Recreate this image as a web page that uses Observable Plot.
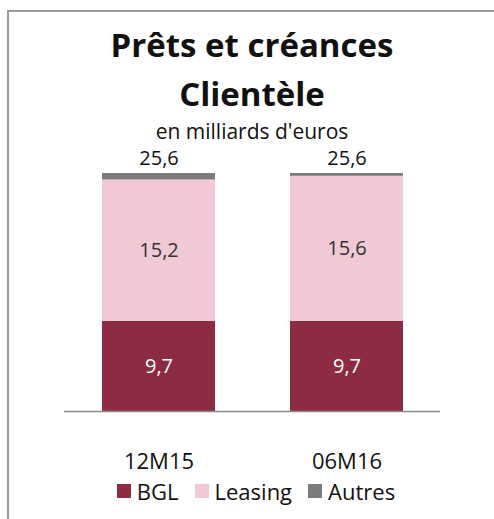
<!DOCTYPE html>
<html>
<head>
<meta charset="utf-8">
<script src="https://cdn.jsdelivr.net/npm/d3@7"></script>
<script src="https://cdn.jsdelivr.net/npm/@observablehq/plot@0.6"></script>
<style>
  html, body { margin: 0; padding: 0; background: #fff; }
  body { width: 494px; height: 519px; overflow: hidden; position: relative; font-family: "Open Sans", sans-serif; color: #111; }
  #frame { position: absolute; left: 7px; top: 10px; width: 487px; height: 509px; border-left: 2px solid #999; border-top: 2px solid #999; box-sizing: border-box; }
  .line { position: absolute; left: 0; width: 504px; text-align: center; white-space: nowrap; }
  #t1 { top: 22px; font-size: 33px; font-weight: 700; line-height: 46px; }
  #t2 { top: 71px; font-size: 33px; font-weight: 700; line-height: 46px; }
  #sub { top: 117px; font-size: 21px; line-height: 28px; }
  #chart { position: absolute; left: 0; top: 140px; }
  #legend { position: absolute; top: 477px; left: 0; width: 512px; display: flex; justify-content: center; align-items: center; font-size: 22px; line-height: 28px; }
  .item { display: flex; align-items: center; margin: 0 8px; }
  .sw { width: 14px; height: 14px; margin-right: 6px; }
</style>
</head>
<body>
<div id="frame"></div>
<div class="line" id="t1">Prêts et créances</div>
<div class="line" id="t2">Clientèle</div>
<div class="line" id="sub">en milliards d'euros</div>
<div id="chart"></div>
<div id="legend"></div>
<script>
const categories = ["12M15", "06M16"];
const series = ["BGL", "Leasing", "Autres"];
const bgl = [9.7, 9.7];
const leasing = [15.2, 15.6];
const autres = [0.7, 0.3];
const totals = [25.6, 25.6];
const colors = ["#8c2b41", "#f0c9d4", "#7b7b7b"];

const fmt = v => v.toFixed(1).replace(".", ",");

const long = [];
categories.forEach((c, i) => {
  long.push({cat: c, series: "BGL", value: bgl[i]});
  long.push({cat: c, series: "Leasing", value: leasing[i]});
  long.push({cat: c, series: "Autres", value: autres[i]});
});
const rows = categories.map((c, i) => ({cat: c, bgl: bgl[i], leasing: leasing[i], total: totals[i]}));

const plot = Plot.plot({
  width: 494,
  height: 335,
  marginLeft: 64,
  marginRight: 54,
  marginTop: 20,
  marginBottom: 64,
  style: {fontFamily: "Open Sans, sans-serif", fontSize: "22px", color: "#111", background: "transparent"},
  x: {domain: categories, paddingInner: 0.4, paddingOuter: 0.2, label: null, tickSize: 0, tickPadding: 42},
  y: {domain: [0, 27], axis: null},
  color: {domain: series, range: colors},
  marks: [
    Plot.barY(long, Plot.stackY({x: "cat", y: "value", fill: "series", order: series})),
    Plot.ruleY([0], {stroke: "#8a8a8a", strokeWidth: 1.5}),
    Plot.text(rows, {x: "cat", y: d => d.bgl / 2, text: d => fmt(d.bgl), fill: "white", fontSize: 20}),
    Plot.text(rows, {x: "cat", y: d => d.bgl + d.leasing / 2, text: d => fmt(d.leasing), fill: "#333", fontSize: 20}),
    Plot.text(rows, {x: "cat", y: "total", text: d => fmt(d.total), fill: "#111", fontSize: 20, dy: -15})
  ]
});
document.getElementById("chart").appendChild(plot);

const legend = document.getElementById("legend");
series.forEach((s, i) => {
  const it = document.createElement("div");
  it.className = "item";
  const sw = document.createElement("div");
  sw.className = "sw";
  sw.style.background = colors[i];
  const lb = document.createElement("span");
  lb.textContent = s;
  it.appendChild(sw);
  it.appendChild(lb);
  legend.appendChild(it);
});
</script>
</body>
</html>
